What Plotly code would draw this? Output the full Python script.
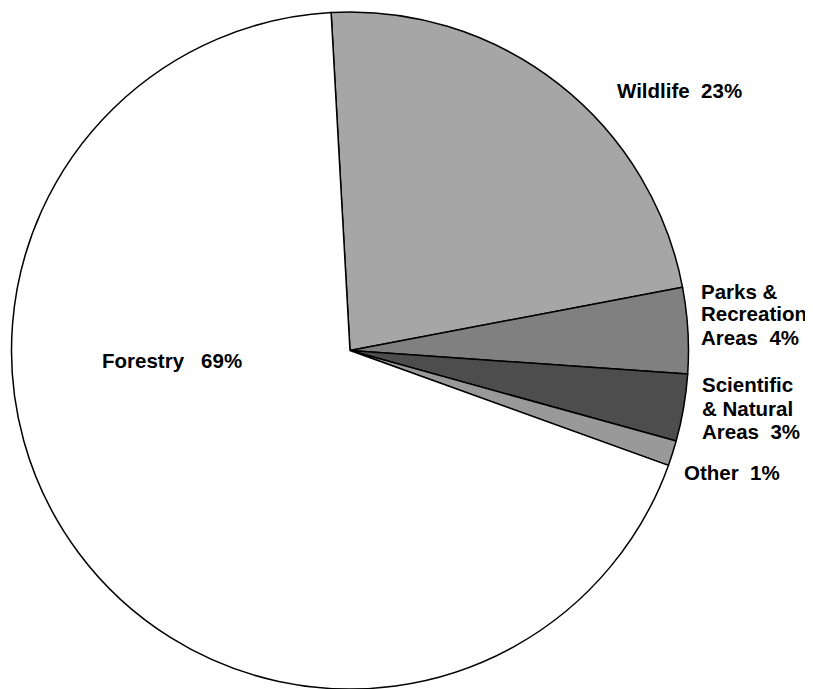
import plotly.graph_objects as go

categories = ["Wildlife", "Parks & Recreation Areas", "Scientific & Natural Areas", "Other", "Forestry"]
values = [22.9, 4.1, 3.2, 1.2, 68.6]
colors = ["#A6A6A6", "#808080", "#4D4D4D", "#999999", "#FFFFFF"]

# label lines (text, left x px, middle y px) in page coordinates
label_lines = [
    ("Wildlife\u00a0\u00a023%", 616, 90),
    ("Parks &", 700, 291),
    ("Recreation", 700, 314),
    ("Areas\u00a0\u00a04%", 700, 337),
    ("Scientific", 701, 384),
    ("& Natural", 701, 408),
    ("Areas\u00a0\u00a03%", 701, 432),
    ("Other\u00a0\u00a01%", 683, 472),
    ("Forestry\u00a0\u00a0\u00a069%", 101, 360),
]

OFF = 8  # page body margin
W, H = 813 - OFF, 689 - OFF

cx, cy, r = 350 - OFF, 350.5 - OFF, 338.5

fig = go.Figure(go.Pie(
    labels=categories,
    values=values,
    sort=False,
    direction="clockwise",
    rotation=-3.2,
    marker=dict(colors=colors, line=dict(color="#000000", width=1.5)),
    textinfo="none",
    hoverinfo="label+percent",
    showlegend=False,
    domain=dict(x=[(cx - r) / W, (cx + r) / W], y=[max(0, (H - cy - r) / H), min(1, (H - cy + r) / H)]),
))

for txt, x, y in label_lines:
    fig.add_annotation(
        text="<b>" + txt + "</b>", x=(x - OFF) / W, y=1 - (y - OFF) / H, xref="paper", yref="paper",
        xanchor="left", yanchor="middle", showarrow=False, borderpad=0,
        font=dict(family="Arial, 'Liberation Sans', sans-serif", size=20.5, color="#000000"),
    )

fig.update_layout(
    width=W, height=H,
    margin=dict(l=0, r=0, t=0, b=0),
    paper_bgcolor="#FFFFFF", plot_bgcolor="#FFFFFF",
)

fig.write_html("out.html")
